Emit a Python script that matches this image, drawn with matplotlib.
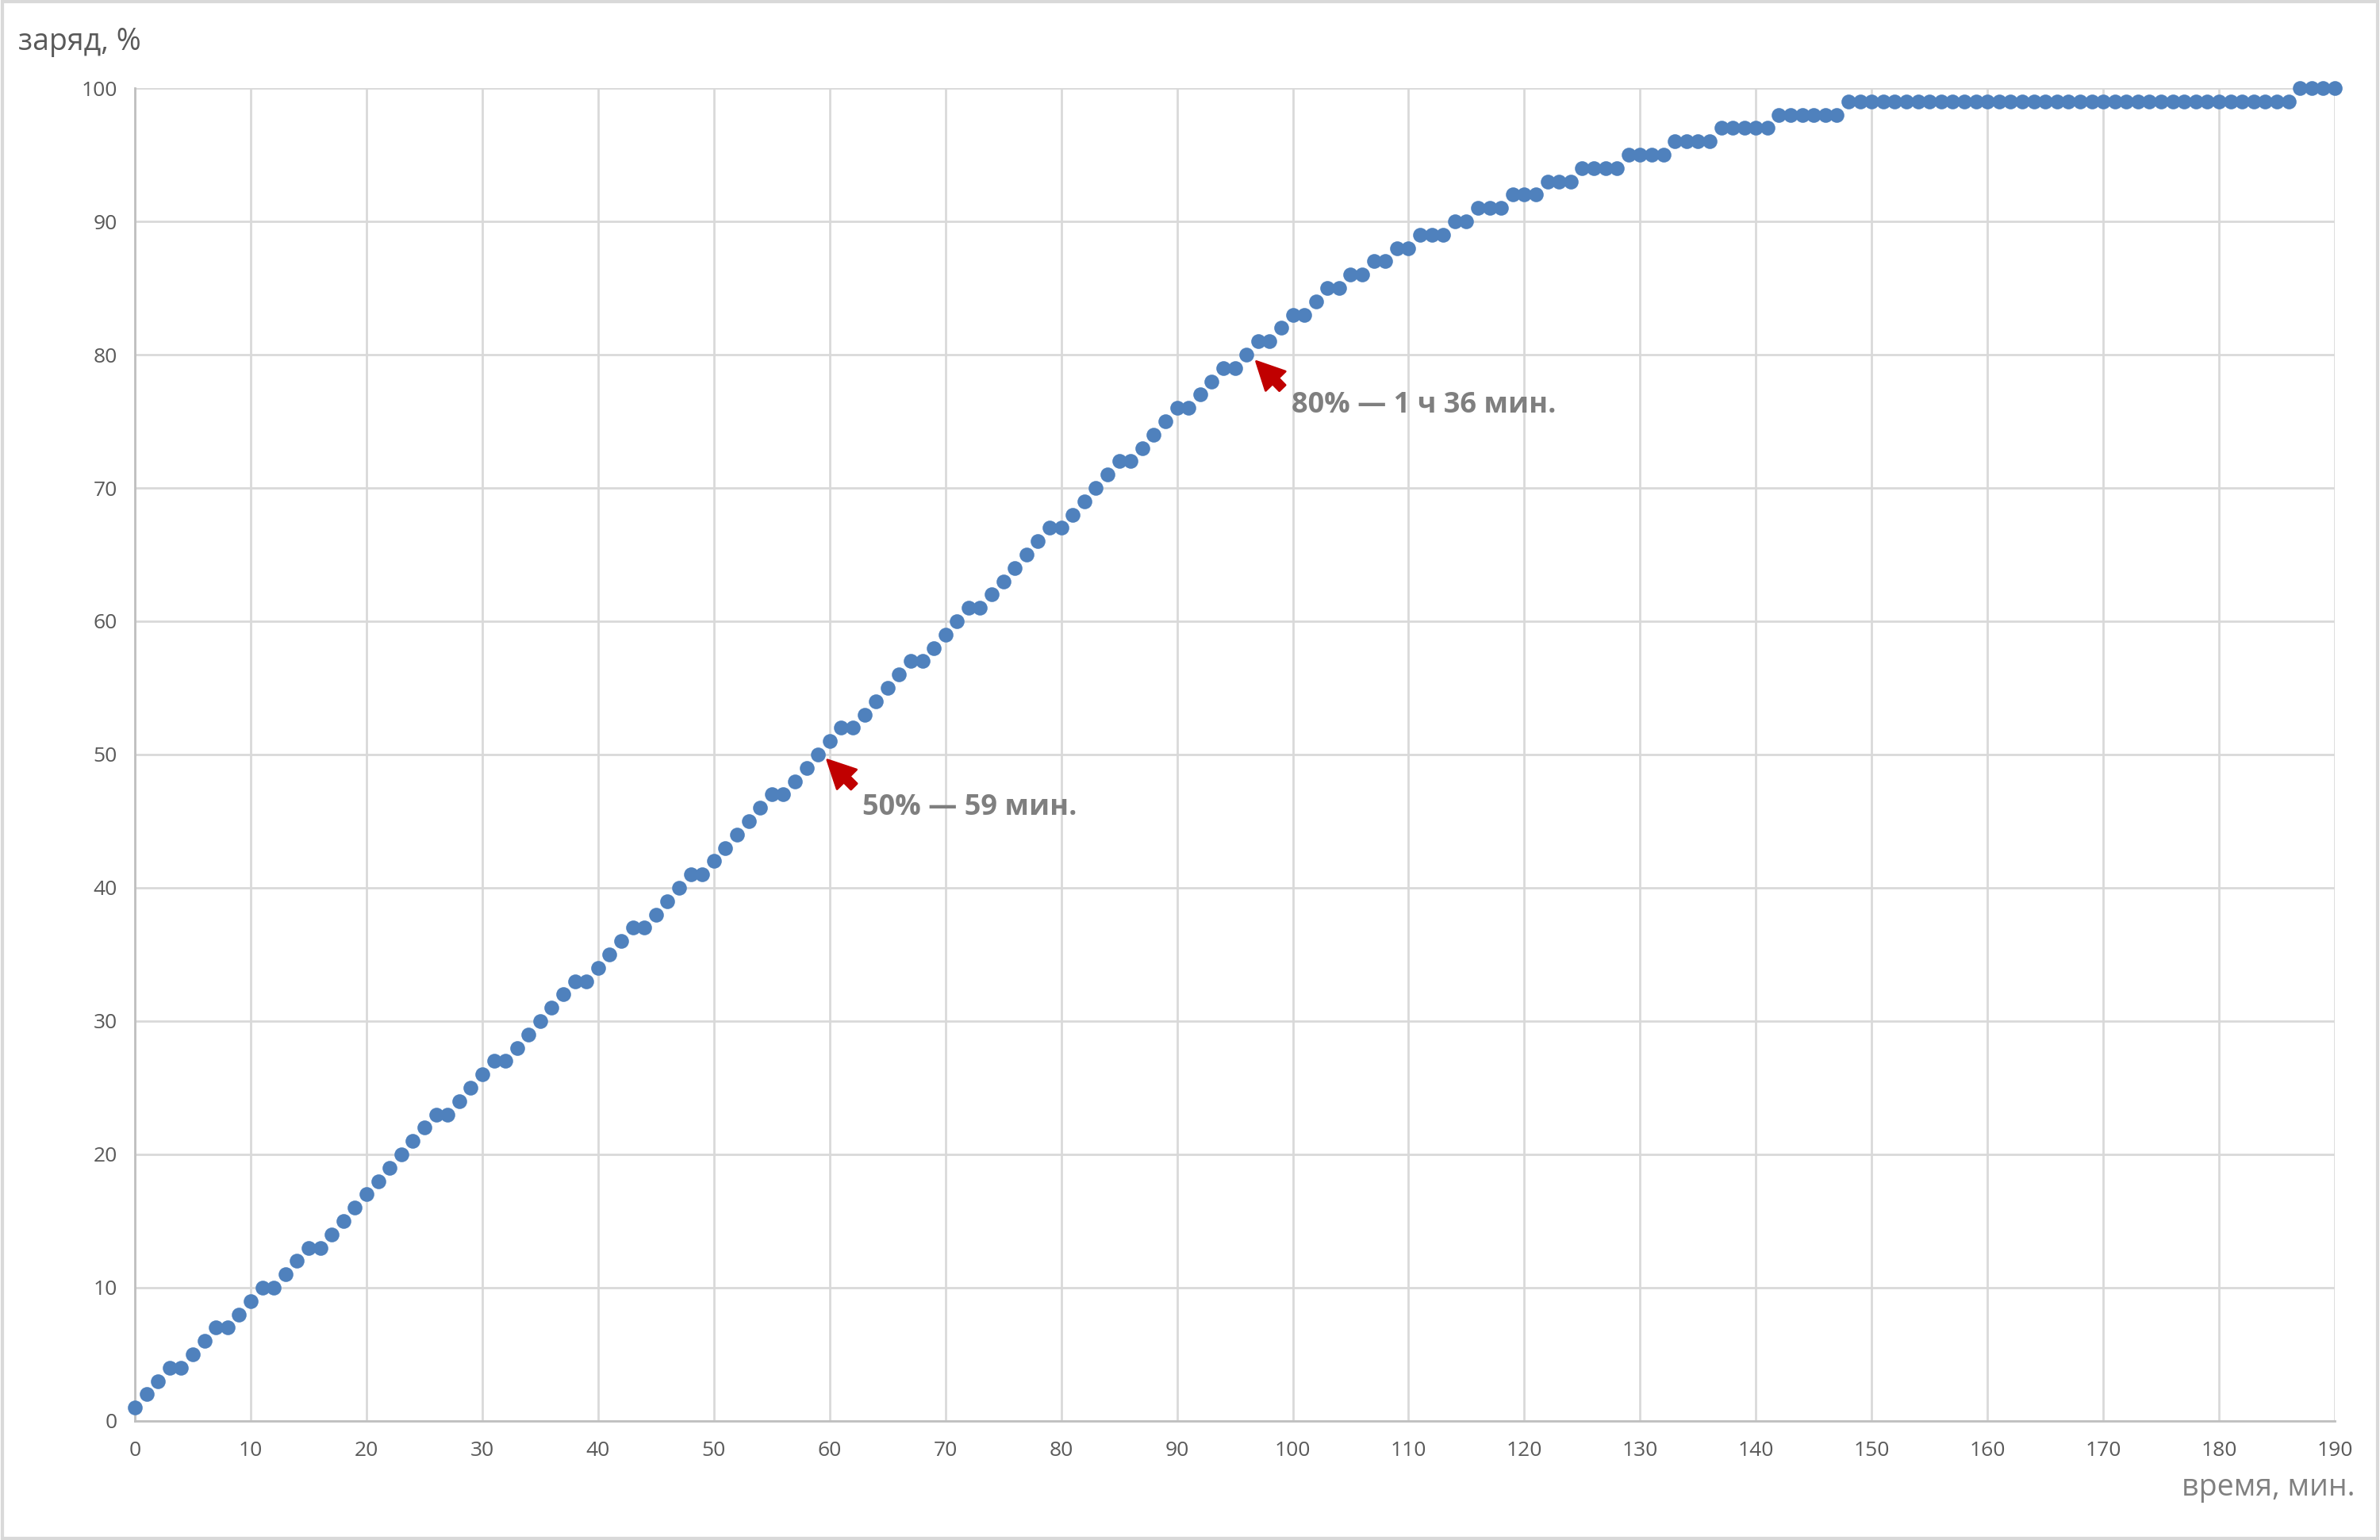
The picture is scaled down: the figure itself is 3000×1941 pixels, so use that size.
import numpy as np
import matplotlib
matplotlib.use('Agg')
from matplotlib import pyplot as plt
from matplotlib.patches import Rectangle

plt.rcParams['font.family'] = ['Open Sans', 'DejaVu Sans']

# время, мин.
minuty = list(range(0, 191))

# заряд, % - по минутам
zaryad = [1, 2, 3, 4, 4, 5, 6, 7, 7, 8,
          9, 10, 10, 11, 12, 13, 13, 14, 15, 16,
          17, 18, 19, 20, 21, 22, 23, 23, 24, 25,
          26, 27, 27, 28, 29, 30, 31, 32, 33, 33,
          34, 35, 36, 37, 37, 38, 39, 40, 41, 41,
          42, 43, 44, 45, 46, 47, 47, 48, 49, 50,
          51, 52, 52, 53, 54, 55, 56, 57, 57, 58,
          59, 60, 61, 61, 62, 63, 64, 65, 66, 67,
          67, 68, 69, 70, 71, 72, 72, 73, 74, 75,
          76, 76, 77, 78, 79, 79, 80, 81, 81, 82,
          83, 83, 84, 85, 85, 86, 86, 87, 87, 88,
          88, 89, 89, 89, 90, 90, 91, 91, 91, 92,
          92, 92, 93, 93, 93, 94, 94, 94, 94, 95,
          95, 95, 95, 96, 96, 96, 96, 97, 97, 97,
          97, 97, 98, 98, 98, 98, 98, 98, 99, 99,
          99, 99, 99, 99, 99, 99, 99, 99, 99, 99,
          99, 99, 99, 99, 99, 99, 99, 99, 99, 99,
          99, 99, 99, 99, 99, 99, 99, 99, 99, 99,
          99, 99, 99, 99, 99, 99, 99, 100, 100, 100,
          100]

xticks = list(range(0, 191, 10))
yticks = list(range(0, 101, 10))

# подписи стрелок: (текст, острие стрелки, хвост, положение текста)
podpisi = ['50% — 59 мин.', '80% — 1 ч 36 мин.']
strelki_xy = [(59.8, 49.6), (96.85, 79.5)]
strelki_hvost = [(62.1, 47.6), (99.1, 77.5)]
tekst_xy = [(62.8, 46.0), (99.9, 76.2)]

fig = plt.figure(figsize=(15, 9.705), dpi=200)
ax = fig.add_axes([0.0567, 0.0773, 0.9243, 0.8655])

ax.plot(minuty, zaryad, 'o', color='#4F81BD', markersize=6.7,
        markeredgewidth=0, clip_on=False, zorder=3)

ax.set_xlim(0, 190)
ax.set_ylim(0, 100)
ax.set_xticks(xticks)
ax.set_yticks(yticks)
ax.grid(True, color='#D9D9D9', linewidth=1.0)
ax.set_axisbelow(True)
ax.tick_params(length=0, labelsize=9.5, labelcolor='#595959')
ax.tick_params(axis='x', pad=9)
ax.tick_params(axis='y', pad=8)
for s in ['top', 'right']:
    ax.spines[s].set_visible(False)
for s in ['left', 'bottom']:
    ax.spines[s].set_color('#BFBFBF')
    ax.spines[s].set_linewidth(1.0)

# стрелки и подписи
for i in range(2):
    ax.annotate('', xy=strelki_xy[i], xytext=strelki_hvost[i],
                arrowprops=dict(arrowstyle='simple,head_length=12.5,head_width=12.5,tail_width=3.8',
                                mutation_scale=1, color='#C00000', shrinkA=0, shrinkB=0),
                zorder=4)
    ax.text(tekst_xy[i][0], tekst_xy[i][1], podpisi[i], fontsize=13, fontweight='bold',
            color='#7F7F7F', va='center', ha='left')

fig.text(23 / 3000, 1 - 53 / 1941, 'заряд, %', fontsize=13.5, color='#595959',
         ha='left', va='center')
fig.text(2969 / 3000, 1 - 1875 / 1941, 'время, мин.', fontsize=13.5, color='#808080',
         ha='right', va='center')

# рамка вокруг всей картинки
fig.patches.append(Rectangle((0.001, 0.001), 0.998, 0.998, transform=fig.transFigure,
                             fill=False, edgecolor='#D9D9D9', linewidth=1.5))

plt.savefig('out.png', dpi=200)
